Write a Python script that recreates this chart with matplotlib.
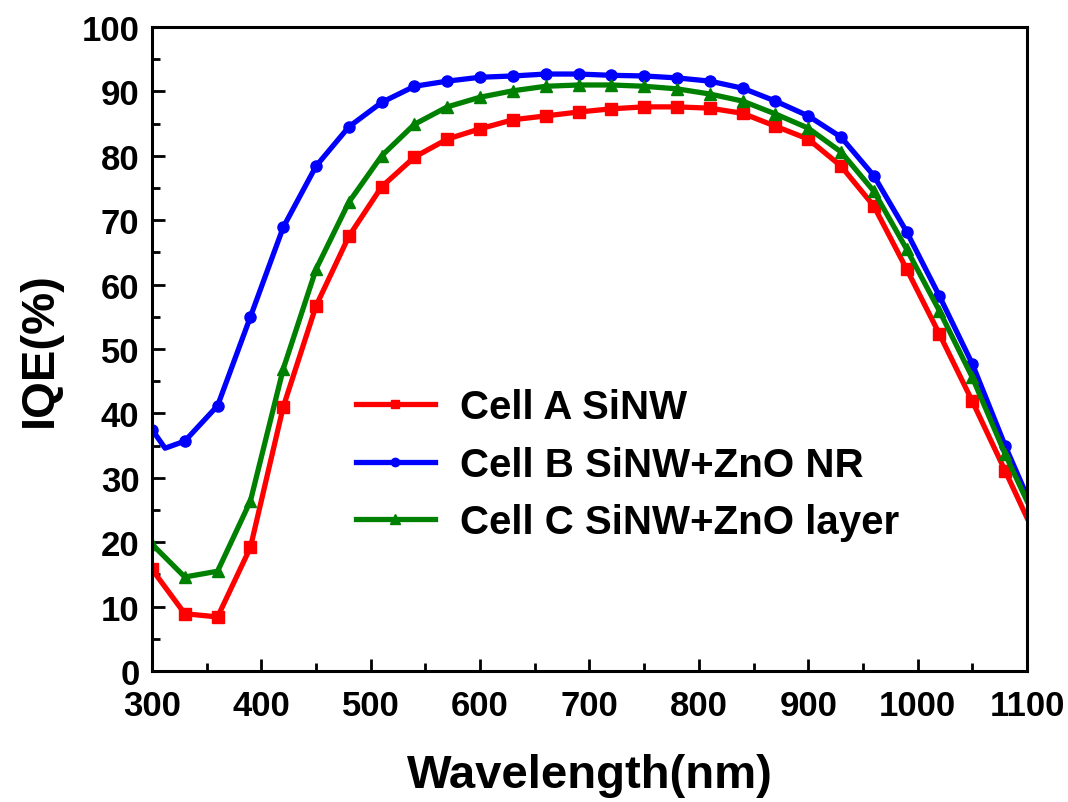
import matplotlib.pyplot as plt
from matplotlib.ticker import MultipleLocator

# wavelengths (nm); markers every 30 nm, last point 1100 has no marker
wl = [300, 330, 360, 390, 420, 450, 480, 510, 540, 570, 600, 630, 660, 690,
      720, 750, 780, 810, 840, 870, 900, 930, 960, 990, 1020, 1050, 1080, 1100]
wl_b = [300, 312, 330, 360, 390, 420, 450, 480, 510, 540, 570, 600, 630, 660, 690,
        720, 750, 780, 810, 840, 870, 900, 930, 960, 990, 1020, 1050, 1080, 1100]

cell_a = [15.8, 8.9, 8.4, 19.2, 41.0, 56.7, 67.5, 75.2, 79.8, 82.6, 84.2, 85.6,
          86.2, 86.8, 87.3, 87.6, 87.6, 87.4, 86.6, 84.6, 82.6, 78.4, 72.2,
          62.4, 52.3, 41.9, 31.1, 23.8]
cell_b = [37.5, 34.6, 35.7, 41.2, 55.0, 68.9, 78.4, 84.5, 88.3, 90.8, 91.6, 92.2,
          92.4, 92.7, 92.7, 92.5, 92.4, 92.1, 91.6, 90.5, 88.5, 86.2, 82.9,
          76.9, 68.2, 58.2, 47.7, 35.0, 27.2]
cell_c = [19.7, 14.6, 15.5, 26.4, 46.9, 62.4, 72.8, 80.0, 84.9, 87.6, 89.1, 90.1,
          90.8, 91.0, 91.0, 90.8, 90.4, 89.6, 88.5, 86.5, 84.3, 80.6, 74.5,
          65.5, 55.9, 45.6, 33.7, 26.4]

labels = ['Cell A SiNW', 'Cell B SiNW+ZnO NR', 'Cell C SiNW+ZnO layer']

plt.rcParams['font.family'] = ['Liberation Sans', 'DejaVu Sans']
plt.rcParams['font.weight'] = 'bold'

fig = plt.figure(figsize=(10.68, 8.03), dpi=100)
ax = fig.add_axes([0.1423, 0.1631, 0.8193, 0.802])

lw = 3.8
ax.plot(wl, cell_a, color='#ff0000', lw=lw, marker='s', ms=8,
        markevery=list(range(27)), label=labels[0])
ax.plot(wl_b, cell_b, color='#0000ff', lw=lw, marker='o', ms=8,
        markevery=[0] + list(range(2, 28)), label=labels[1])
ax.plot(wl, cell_c, color='#008000', lw=lw, marker='^', ms=9,
        markevery=list(range(27)), label=labels[2])

ax.set_xlim(300, 1100)
ax.set_ylim(0, 100)
ax.xaxis.set_major_locator(MultipleLocator(100))
ax.xaxis.set_minor_locator(MultipleLocator(50))
ax.yaxis.set_major_locator(MultipleLocator(10))
ax.yaxis.set_minor_locator(MultipleLocator(5))
ax.tick_params(which='both', direction='in', width=2, labelsize=25,
               top=False, right=False)
ax.tick_params(axis='x', pad=13)
ax.tick_params(axis='y', pad=9)
ax.tick_params(which='major', length=9)
ax.tick_params(which='minor', length=6)
for sp in ax.spines.values():
    sp.set_linewidth(2.2)

ax.set_xlabel('Wavelength(nm)', fontsize=34, fontweight='bold', labelpad=22)
ax.set_ylabel('IQE(%)', fontsize=34, fontweight='bold', labelpad=14)

ax.legend(loc='upper left', bbox_to_anchor=(0.192, 0.495), frameon=False,
          fontsize=29, handlelength=1.95, handletextpad=0.62, labelspacing=0.48,
          markerscale=0.75)

fig.savefig('out.png', dpi=100)
